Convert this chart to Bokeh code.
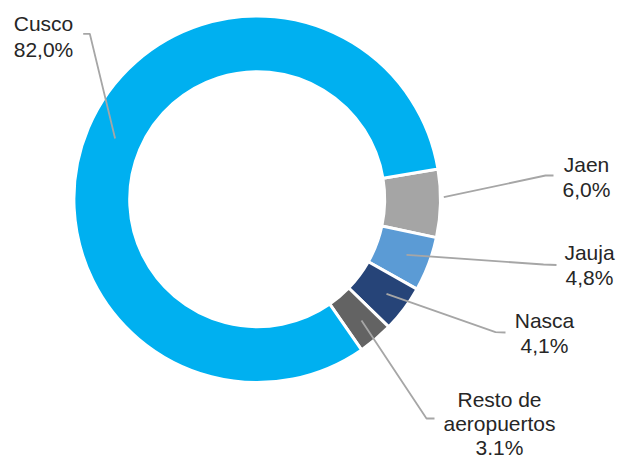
import math
from bokeh.plotting import figure
from bokeh.models import Range1d, ColumnDataSource
from bokeh.core.properties import value
from bokeh.embed import file_html
from bokeh.resources import INLINE

# ---- data ----
airports = ["Jaen", "Jauja", "Nasca", "Resto de aeropuertos", "Cusco"]
shares = [6.0, 4.8, 4.1, 3.1, 82.0]
label_lines = [["Jaen"], ["Jauja"], ["Nasca"], ["Resto de", "aeropuertos"], ["Cusco"]]

# ---- style / layout ----
colors = ["#A5A5A5", "#5B9BD5", "#264478", "#636363", "#00B0F0"]
W, H = 617, 455
PAGE_H = 455

def sy(y):  # page pixel y -> data y
    return PAGE_H - y

cx, cy = 256.7, sy(198.7)
r_out, r_in = 183.3, 127.5
start_deg = 9.5
text_shift = 8.0

# label anchors (center x, first baseline in page px, line spacing)
label_pos = [(586, 171.7, 25.5), (589, 260.0, 25.0), (544, 328.3, 24.7),
             (499, 406.7, 24.2), (43, 30.7, 26.0)]
# leader lines (page px)
leaders = [
    [(443.3, 196.7), (545, 175), (553, 175)],
    [(406, 254.3), (543, 264), (556, 264.5)],
    [(386, 293.3), (495, 331.7), (505, 332)],
    [(361, 320), (426, 418), (434, 418)],
    [(114.6, 138), (89.3, 33.3), (82.7, 33.3)],
]

total = sum(shares)
starts, ends = [], []
cum = 0.0
for v in shares:
    a0 = start_deg - cum / total * 360.0
    a1 = start_deg - (cum + v) / total * 360.0
    starts.append(math.radians(a1))
    ends.append(math.radians(a0))
    cum += v

p = figure(width=W, height=H, x_range=Range1d(0, W), y_range=Range1d(0, H),
           output_backend="svg", toolbar_location=None,
           x_axis_location=None, y_axis_location=None, min_border=0)
p.xgrid.visible = False
p.ygrid.visible = False
p.outline_line_color = None
p.background_fill_color = "white"

src = ColumnDataSource(dict(x=[cx] * len(shares), y=[cy] * len(shares),
                            start=starts, end=ends, color=colors))
p.annular_wedge(x="x", y="y", inner_radius=r_in, outer_radius=r_out,
                start_angle="start", end_angle="end", direction="anticlock",
                fill_color="color", line_color="white", line_width=3, source=src)

p.multi_line(xs=[[pt[0] for pt in l] for l in leaders],
             ys=[[sy(pt[1]) for pt in l] for l in leaders],
             line_color="#A6A6A6", line_width=1.8)

tx, ty, tt = [], [], []
for lines, v, (lx, ly, dl) in zip(label_lines, shares, label_pos):
    all_lines = lines + [f"{v:.1f}".replace(".", ",") + "%"]
    for i, t in enumerate(all_lines):
        tx.append(lx)
        ty.append(sy(ly + i * dl - text_shift))
        tt.append(t)

p.text(x=tx, y=ty, text=tt, text_align="center", text_baseline="alphabetic",
       text_font=value("Liberation Sans"), text_font_size="21px", text_color="#262626")

open("out.html", "w").write(file_html(p, INLINE))
